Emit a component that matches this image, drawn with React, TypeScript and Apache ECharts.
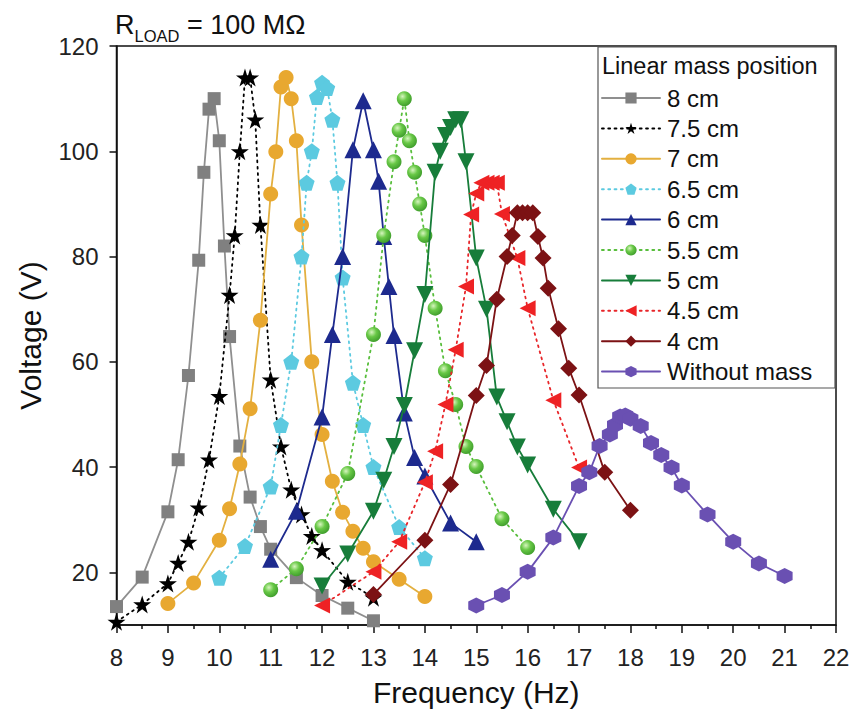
import React, { useEffect, useRef } from 'react';
import * as echarts from 'echarts';

const FONT = '"Liberation Sans", Arial, Helvetica, sans-serif';

const seriesNames = ['8 cm', '7.5 cm', '7 cm', '6.5 cm', '6 cm', '5.5 cm', '5 cm', '4.5 cm', '4 cm', 'Without mass'];

const cm8: [number, number][] = [[8, 13.5], [8.5, 19.1], [9, 31.5], [9.2, 41.4], [9.4, 57.4], [9.6, 79.3], [9.7, 96], [9.8, 108], [9.9, 110], [10, 102], [10.1, 82], [10.2, 64.8], [10.4, 44], [10.6, 34.3], [10.8, 28.7], [11, 24.4], [11.5, 19], [12, 15.6], [12.5, 13.2], [13, 10.8]];
const cm75: [number, number][] = [[8, 10.6], [8.5, 13.9], [9, 17.9], [9.2, 21.8], [9.4, 25.8], [9.6, 32.3], [9.8, 41.4], [10, 53.5], [10.2, 72.7], [10.3, 84], [10.4, 100], [10.5, 114], [10.6, 114], [10.7, 106], [10.8, 86], [11, 56.6], [11.2, 43.9], [11.4, 35.7], [11.6, 31], [11.8, 26.9], [12, 24.2], [12.5, 18.2], [13, 15.2]];
const cm7: [number, number][] = [[9, 14.1], [9.5, 18], [10, 26.1], [10.2, 32.1], [10.4, 40.6], [10.6, 51.1], [10.8, 67.9], [11, 91.9], [11.1, 99.9], [11.2, 112.2], [11.3, 114], [11.4, 110], [11.5, 102], [11.6, 86], [11.8, 60], [12, 46.2], [12.2, 37.3], [12.4, 31.4], [12.6, 27.8], [12.8, 24.6], [13, 22], [13.5, 18.7], [14, 15.4]];
const cm65: [number, number][] = [[10, 19], [10.5, 25], [11, 36.3], [11.2, 48], [11.4, 60], [11.6, 80], [11.7, 94], [11.8, 100], [11.9, 110.3], [12, 113], [12.1, 112], [12.2, 106], [12.3, 94], [12.4, 76], [12.6, 56], [12.8, 48], [13, 40], [13.5, 28.6], [14, 22.7]];
const cm6: [number, number][] = [[11, 22.5], [11.5, 31.6], [12, 49.5], [12.2, 65.2], [12.4, 80], [12.6, 100.3], [12.8, 109.6], [13, 100.3], [13.1, 94.3], [13.2, 83.8], [13.3, 74.3], [13.4, 65], [13.6, 50.3], [13.8, 41.8], [14, 38.3], [14.5, 29.4], [15, 25.8]];
const cm55: [number, number][] = [[11, 16.7], [11.5, 20.7], [12, 28.7], [12.5, 38.8], [13, 65.2], [13.2, 84], [13.4, 98], [13.5, 104], [13.6, 110], [13.7, 102], [13.8, 96], [13.9, 90], [14, 84], [14.2, 70.2], [14.4, 58.3], [14.6, 51.9], [14.8, 43.9], [15, 40.1], [15.5, 30.2], [16, 24.7]];
const cm5: [number, number][] = [[12, 17.4], [12.5, 23.5], [13, 31.6], [13.2, 37.5], [13.4, 43.9], [13.6, 51.7], [13.8, 62.1], [14, 72.8], [14.2, 96], [14.3, 100], [14.4, 103], [14.5, 104.5], [14.6, 106], [14.7, 106], [14.8, 98], [15, 79.7], [15.2, 70], [15.4, 53.3], [15.6, 48.6], [15.8, 43.8], [16, 40.4], [16.5, 32], [17, 25.8]];
const cm45: [number, number][] = [[12, 13.7], [13, 20.1], [13.5, 25.8], [14, 37.1], [14.2, 43], [14.4, 51.9], [14.6, 62.3], [14.8, 74.3], [14.9, 88], [15, 92], [15.1, 94], [15.2, 94], [15.3, 94], [15.4, 94], [15.5, 88.1], [15.8, 79.7], [16, 70.2], [16.5, 52.7], [17, 39.9]];
const cm4: [number, number][] = [[13, 15.8], [14, 26.1], [14.5, 36.7], [15, 53.6], [15.2, 59.3], [15.4, 71.9], [15.6, 80], [15.7, 84], [15.8, 88.3], [15.9, 88.3], [16, 88.3], [16.1, 88.3], [16.2, 83.8], [16.3, 79.7], [16.4, 74], [16.6, 66.3], [16.8, 58.8], [17, 53.7], [17.5, 39], [18, 31.8]];
const noMass: [number, number][] = [[15, 13.7], [15.5, 15.7], [16, 20.1], [16.5, 26.6], [17, 36.4], [17.2, 39], [17.4, 44], [17.6, 46.2], [17.7, 48], [17.8, 49.6], [17.9, 49.8], [18, 49.2], [18.2, 47.8], [18.4, 44.6], [18.6, 42.3], [18.8, 39.9], [19, 36.5], [19.5, 31], [20, 25.8], [20.5, 21.7], [21, 19.3]];

const seriesData = [cm8, cm75, cm7, cm65, cm6, cm55, cm5, cm45, cm4, noMass];

const STAR = 'path://M50,0 L61.2,34.6 L97.6,34.5 L68.1,55.9 L79.4,90.5 L50,69 L20.6,90.5 L31.9,55.9 L2.4,34.5 L38.8,34.6 Z';
const PENTAGON = 'path://M50,0 L97.6,34.5 L79.4,90.5 L20.6,90.5 L2.4,34.5 Z';
const HEXAGON = 'path://M50,0 L93.3,25 L93.3,75 L50,100 L6.7,75 L6.7,25 Z';
const TRI_UP = 'path://M50,0 L100,86.6 L0,86.6 Z';
const TRI_DOWN = 'path://M0,0 L100,0 L50,86.6 Z';
const TRI_LEFT = 'path://M0,50 L86.6,0 L86.6,100 Z';

const ballGradient = {
  type: 'radial', x: 0.38, y: 0.35, r: 0.7,
  colorStops: [
    { offset: 0, color: '#d6f5be' },
    { offset: 0.45, color: '#68c846' },
    { offset: 1, color: '#3c9a2a' },
  ],
};

const DOT = [1.8, 4.5];

const looks = [
  { color: '#808080', line: '#8f8f8f', symbol: 'rect', size: 13, dash: 'solid' as any },
  { color: '#000000', line: '#000000', symbol: STAR, size: 18, dash: DOT },
  { color: '#e8a830', line: '#e3b040', symbol: 'circle', size: 15, dash: 'solid' },
  { color: '#5ccae0', line: '#5ccae0', symbol: PENTAGON, size: 16, dash: DOT },
  { color: '#1d2a8e', line: '#1d2a8e', symbol: TRI_UP, size: 17, dash: 'solid' },
  { color: ballGradient, line: '#58be3c', symbol: 'circle', size: 15, dash: DOT },
  { color: '#177d3a', line: '#177d3a', symbol: TRI_DOWN, size: 17, dash: 'solid' },
  { color: '#ee2224', line: '#e8262a', symbol: TRI_LEFT, size: 16, dash: DOT },
  { color: '#7c1214', line: '#7c1214', symbol: 'diamond', size: 17, dash: 'solid' },
  { color: '#6a50b2', line: '#6a50b2', symbol: HEXAGON, size: 16, dash: 'solid' },
];

export default function App() {
  const ref = useRef<HTMLDivElement>(null);
  useEffect(() => {
    const chart = echarts.init(ref.current!, null, { renderer: 'svg' });
    const series = seriesNames.map((name, i) => ({
      name,
      type: 'line',
      data: seriesData[i],
      symbol: looks[i].symbol,
      symbolSize: looks[i].size,
      showAllSymbol: true,
      itemStyle: { color: looks[i].color },
      lineStyle: { color: looks[i].line, width: 1.8, type: looks[i].dash, cap: 'round' },
      emphasis: { disabled: true },
      z: 2 + i * 0.01,
    }));
    chart.setOption({
      animation: false,
      backgroundColor: '#ffffff',
      textStyle: { fontFamily: FONT },
      title: {
        left: 110,
        top: 1,
        text: '{r|R}{s|LOAD}{r| = 100 MΩ}',
        textStyle: {
          fontWeight: 'normal',
          rich: {
            r: { fontSize: 27, lineHeight: 38, color: '#111', fontWeight: 'normal', fontFamily: FONT },
            s: { fontSize: 16.5, lineHeight: 15, verticalAlign: 'bottom', color: '#111', fontWeight: 'normal', fontFamily: FONT },
          },
        },
      },
      grid: {
        left: 116.5, right: 18, top: 46, bottom: 99,
        show: true, borderColor: '#111', borderWidth: 1.5, backgroundColor: 'transparent',
      },
      xAxis: {
        type: 'value', min: 8, max: 22, interval: 1,
        name: 'Frequency (Hz)', nameLocation: 'middle', nameGap: 52,
        nameTextStyle: { fontSize: 30, color: '#111', fontFamily: FONT },
        axisLine: { show: true, lineStyle: { color: '#111', width: 1.5 } },
        axisTick: { show: true, inside: false, length: 8, lineStyle: { color: '#111', width: 1.5 } },
        minorTick: { show: true, splitNumber: 2, length: 4, lineStyle: { color: '#111', width: 1.5 } },
        axisLabel: { fontSize: 24, color: '#222', margin: 20, fontFamily: FONT },
        splitLine: { show: false },
      },
      yAxis: {
        type: 'value', min: 10, max: 120, splitNumber: 5,
        name: 'Voltage (V)', nameLocation: 'middle', nameGap: 71,
        nameTextStyle: { fontSize: 30, color: '#111', fontFamily: FONT },
        axisLine: { show: true, lineStyle: { color: '#111', width: 1.5 } },
        axisTick: { show: true, inside: false, length: 7, lineStyle: { color: '#111', width: 1.5 } },
        axisLabel: { fontSize: 24, color: '#222', margin: 18, showMinLabel: false, fontFamily: FONT },
        splitLine: { show: false },
      },
      legend: {
        orient: 'vertical',
        left: 601,
        top: 86,
        padding: 0,
        itemWidth: 58,
        itemHeight: 14,
        itemGap: 6.4,
        data: seriesNames,
        textStyle: { fontSize: 24, color: '#111', fontFamily: FONT, padding: [0, 0, 0, 2] },
        selectedMode: false,
      },
      graphic: [
        {
          type: 'rect',
          shape: { x: 598, y: 47, width: 237, height: 341 },
          style: { fill: '#ffffff', stroke: '#555', lineWidth: 1.2 },
          z: 1,
        },
        {
          type: 'text',
          x: 602,
          y: 54,
          style: { text: 'Linear mass position', fontSize: 23.5, fill: '#111', fontFamily: FONT },
          z: 2,
        },
      ],
      series,
    });
    return () => chart.dispose();
  }, []);
  return <div ref={ref} style={{ position: 'fixed', left: 0, top: 0, width: 854, height: 724 }} />;
}
